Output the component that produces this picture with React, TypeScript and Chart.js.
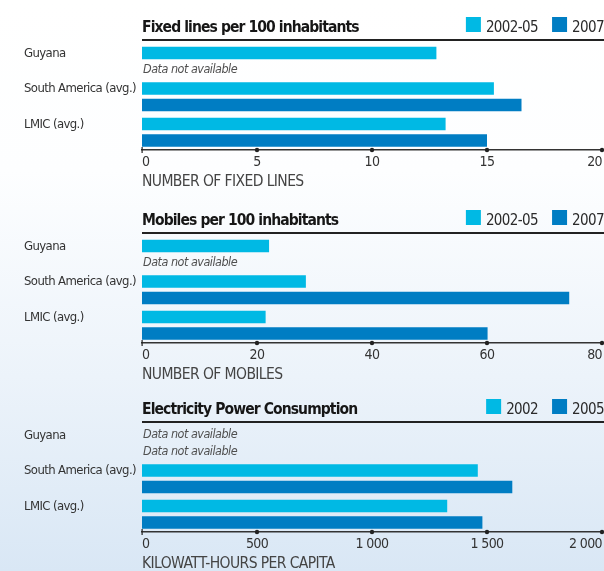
import React, { useEffect, useRef } from 'react';
import { Chart, registerables } from 'chart.js';

Chart.register(...registerables);

// ---------- data ----------
const categories = ['Guyana', 'South America (avg.)', 'LMIC (avg.)'];
const missingText = 'Data not available';

const fixedTitle = 'Fixed lines per 100 inhabitants';
const fixedSeriesNames = ['2002-05', '2007'];
const fixed2002_05 = [12.8, 15.3, 13.2];
const fixed2007 = [null, 16.5, 15.0];
const fixedTicks = [0, 5, 10, 15, 20];
const fixedTickLabels = ['0', '5', '10', '15', '20'];
const fixedAxisTitle = 'NUMBER OF FIXED LINES';

const mobileTitle = 'Mobiles per 100 inhabitants';
const mobileSeriesNames = ['2002-05', '2007'];
const mobile2002_05 = [22.1, 28.5, 21.5];
const mobile2007 = [null, 74.3, 60.1];
const mobileTicks = [0, 20, 40, 60, 80];
const mobileTickLabels = ['0', '20', '40', '60', '80'];
const mobileAxisTitle = 'NUMBER OF MOBILES';

const elecTitle = 'Electricity Power Consumption';
const elecSeriesNames = ['2002', '2005'];
const elec2002 = [null, 1460, 1327];
const elec2005 = [null, 1610, 1480];
const elecTicks = [0, 500, 1000, 1500, 2000];
const elecTickLabels = ['0', '500', '1 000', '1 500', '2 000'];
const elecAxisTitle = 'KILOWATT-HOURS PER CAPITA';

// ---------- style ----------
const FONT = "'Liberation Sans Narrow', 'DejaVu Sans Condensed', 'Arial Narrow', 'Roboto Condensed', 'Liberation Sans', sans-serif";
const CYAN = '#00b9e4';
const BLUE = '#007dc3';
const CANVAS_W = 606;
const CANVAS_H = 193;
const AXIS_SPACING = '-0.6px';

type PanelProps = {
  top: number;
  title: string;
  names: string[];
  a: (number | null)[];
  b: (number | null)[];
  ticks: number[];
  tickLabels: string[];
  axisTitle: string;
};

function makeDecor(title: string, names: string[]) {
  return {
    id: 'panelDecor',
    beforeLayout(chart: any) {
      chart.ctx.letterSpacing = AXIS_SPACING;
    },
    beforeDraw(chart: any) {
      chart.ctx.letterSpacing = AXIS_SPACING;
    },
    afterDraw(chart: any) {
      const { ctx, chartArea } = chart;
      ctx.save();
      // title
      ctx.textAlign = 'left';
      ctx.textBaseline = 'alphabetic';
      ctx.font = `bold 15.5px ${FONT}`;
      ctx.letterSpacing = '-0.9px';
      ctx.fillStyle = '#161616';
      ctx.fillText(title, chartArea.left, 31.5);
      // rule under title
      ctx.strokeStyle = '#222';
      ctx.lineWidth = 2;
      ctx.beginPath();
      ctx.moveTo(chartArea.left, 40);
      ctx.lineTo(chart.width, 40);
      ctx.stroke();
      // legend (right aligned)
      ctx.font = `15px ${FONT}`;
      ctx.letterSpacing = '-0.6px';
      const colors = [CYAN, BLUE];
      let x = 604;
      for (let i = names.length - 1; i >= 0; i--) {
        const w = ctx.measureText(names[i]).width;
        const tx = x - w;
        ctx.fillStyle = '#2a2a2a';
        ctx.fillText(names[i], tx, 32);
        const bx = tx - 5 - 15;
        ctx.fillStyle = colors[i];
        ctx.fillRect(bx, 17, 15, 15);
        x = bx - 14;
      }
      // missing data notes
      ctx.font = `italic 12.5px ${FONT}`;
      ctx.letterSpacing = '-0.5px';
      ctx.fillStyle = '#505050';
      ctx.textBaseline = 'middle';
      const yScale = chart.scales.y;
      chart.data.datasets.forEach((ds: any, di: number) => {
        const meta = chart.getDatasetMeta(di);
        ds.data.forEach((v: any, i: number) => {
          if (v === null || v === undefined) {
            const el: any = meta.data[i];
            let y = el && isFinite(el.y) ? el.y : NaN;
            if (!isFinite(y)) {
              const pitch = Math.abs(yScale.getPixelForValue(1) - yScale.getPixelForValue(0));
              y = yScale.getPixelForValue(i) + (di - 0.5) * pitch * 0.93 / 2;
            }
            ctx.fillText(missingText, chartArea.left + 1, y);
          }
        });
      });
      // axis tick markers
      const xs = chart.scales.x;
      const by = chartArea.bottom;
      ctx.fillStyle = '#222';
      xs.ticks.forEach((t: any, i: number) => {
        const px = xs.getPixelForValue(t.value);
        if (i === 0) {
          ctx.fillRect(px - 0.5, by - 3, 1.2, 6);
        } else {
          ctx.beginPath();
          ctx.arc(px, by, 2.2, 0, Math.PI * 2);
          ctx.fill();
        }
      });
      ctx.restore();
      ctx.letterSpacing = '0px';
    },
  };
}

function Panel(p: PanelProps) {
  const ref = useRef<HTMLCanvasElement>(null);
  useEffect(() => {
    const max = p.ticks[p.ticks.length - 1];
    const chart = new Chart(ref.current as HTMLCanvasElement, {
      type: 'bar',
      data: {
        labels: categories,
        datasets: [
          { label: p.names[0], data: p.a as any, backgroundColor: CYAN, categoryPercentage: 0.93, barPercentage: 0.77 },
          { label: p.names[1], data: p.b as any, backgroundColor: BLUE, categoryPercentage: 0.93, barPercentage: 0.77 },
        ],
      },
      options: {
        indexAxis: 'y',
        responsive: false,
        animation: false,
        layout: { padding: { left: 24, top: 43.5, right: 0, bottom: 0 } },
        plugins: {
          legend: { display: false },
          tooltip: { enabled: false },
          title: { display: false },
        },
        scales: {
          x: {
            type: 'linear',
            min: 0,
            max,
            grid: { display: false, drawTicks: false },
            border: { display: true, color: '#333', width: 1.5 },
            afterBuildTicks: (s: any) => {
              s.ticks = p.ticks.map((v) => ({ value: v }));
            },
            afterFit: (s: any) => {
              s.height = CANVAS_H - 150;
            },
            ticks: {
              align: 'inner',
              padding: 4,
              color: '#333',
              font: { family: FONT, size: 14 },
              callback: (_v: any, i: number) => p.tickLabels[i],
            },
            title: {
              display: true,
              text: p.axisTitle,
              align: 'start',
              color: '#444',
              font: { family: FONT, size: 15.5 },
              padding: { top: 0, bottom: 2 },
            },
          },
          y: {
            grid: { display: false, drawTicks: false },
            border: { display: false },
            afterFit: (s: any) => {
              s.width = 118;
            },
            ticks: {
              crossAlign: 'far',
              labelOffset: -8,
              padding: 0,
              color: '#333',
              font: { family: FONT, size: 13 },
            },
          },
        },
      } as any,
      plugins: [makeDecor(p.title, p.names)],
    });
    return () => chart.destroy();
  }, []);
  return (
    <canvas
      ref={ref}
      width={CANVAS_W}
      height={CANVAS_H}
      style={{ position: 'absolute', left: 0, top: p.top, width: CANVAS_W, height: CANVAS_H, display: 'block' }}
    />
  );
}

export default function App() {
  return (
    <div
      style={{
        position: 'fixed',
        left: 0,
        top: 0,
        width: 604,
        height: 571,
        overflow: 'hidden',
        background: 'linear-gradient(to bottom, #ffffff 0%, #fdfeff 30%, #ecf3fa 66%, #d9e7f5 100%)',
      }}
    >
      <Panel top={0} title={fixedTitle} names={fixedSeriesNames} a={fixed2002_05} b={fixed2007}
        ticks={fixedTicks} tickLabels={fixedTickLabels} axisTitle={fixedAxisTitle} />
      <Panel top={193} title={mobileTitle} names={mobileSeriesNames} a={mobile2002_05} b={mobile2007}
        ticks={mobileTicks} tickLabels={mobileTickLabels} axisTitle={mobileAxisTitle} />
      <Panel top={382} title={elecTitle} names={elecSeriesNames} a={elec2002} b={elec2005}
        ticks={elecTicks} tickLabels={elecTickLabels} axisTitle={elecAxisTitle} />
    </div>
  );
}
